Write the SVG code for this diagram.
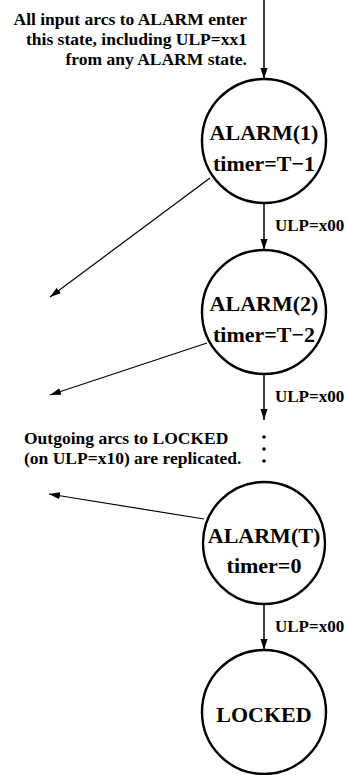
<svg xmlns="http://www.w3.org/2000/svg" width="346" height="775" viewBox="0 0 346 775">
<style>
text{font-family:"Liberation Serif","Times New Roman",serif;font-weight:bold;fill:#000}
.node{font-size:22px;text-anchor:middle}
.note{font-size:17.5px}
.lbl{font-size:17px}
circle.st{fill:#fff;stroke:#000;stroke-width:2.4}
.edge{stroke:#000;stroke-width:1.5;fill:none}
.thin{stroke:#000;stroke-width:1.2;fill:none}
</style>
<defs>
<marker id="ah" markerUnits="userSpaceOnUse" markerWidth="11" markerHeight="8" refX="11" refY="4" orient="auto">
<path d="M0,0.5 L11,4 L0,7.5 z" fill="#000"/>
</marker>
</defs>
<g id="connectors">
<line class="edge" x1="264" y1="0" x2="264" y2="79" marker-end="url(#ah)"/>
<line class="edge" x1="264" y1="203" x2="264" y2="250" marker-end="url(#ah)"/>
<line class="edge" x1="264" y1="374" x2="264" y2="420" marker-end="url(#ah)"/>
<line class="edge" x1="264" y1="604" x2="264" y2="650" marker-end="url(#ah)"/>
<line class="thin" x1="210" y1="178" x2="50" y2="297" marker-end="url(#ah)"/>
<line class="thin" x1="207" y1="343" x2="50" y2="395" marker-end="url(#ah)"/>
<line class="thin" x1="204" y1="519" x2="49" y2="494" marker-end="url(#ah)"/>
<text class="lbl" x="275" y="231">ULP=x00</text>
<text class="lbl" x="275" y="402">ULP=x00</text>
<text class="lbl" x="275" y="632">ULP=x00</text>
</g>
<g id="dots">
<circle cx="264" cy="437" r="1.8"/>
<circle cx="264" cy="449" r="1.8"/>
<circle cx="264" cy="461" r="1.8"/>
</g>
<g id="note-top">
<text class="note" x="247" y="25" text-anchor="end">All input arcs to ALARM enter</text>
<text class="note" x="247" y="45" text-anchor="end">this state, including ULP=xx1</text>
<text class="note" x="247" y="65" text-anchor="end">from any ALARM state.</text>
</g>
<g id="note-mid">
<text class="note" x="24" y="444">Outgoing arcs to LOCKED</text>
<text class="note" x="24" y="464">(on ULP=x10) are replicated.</text>
</g>
<g id="alarm1">
<circle class="st" cx="264" cy="141" r="62"/>
<text class="node" x="264" y="140">ALARM(1)</text>
<text class="node" x="264" y="171">timer=T−1</text>
</g>
<g id="alarm2">
<circle class="st" cx="264" cy="312" r="62"/>
<text class="node" x="264" y="311">ALARM(2)</text>
<text class="node" x="264" y="342">timer=T−2</text>
</g>
<g id="alarmT">
<circle class="st" cx="264" cy="543" r="61"/>
<text class="node" x="264" y="543">ALARM(T)</text>
<text class="node" x="264" y="573">timer=0</text>
</g>
<g id="locked">
<circle class="st" cx="264" cy="712" r="62"/>
<text class="node" x="264" y="722">LOCKED</text>
</g>
</svg>
